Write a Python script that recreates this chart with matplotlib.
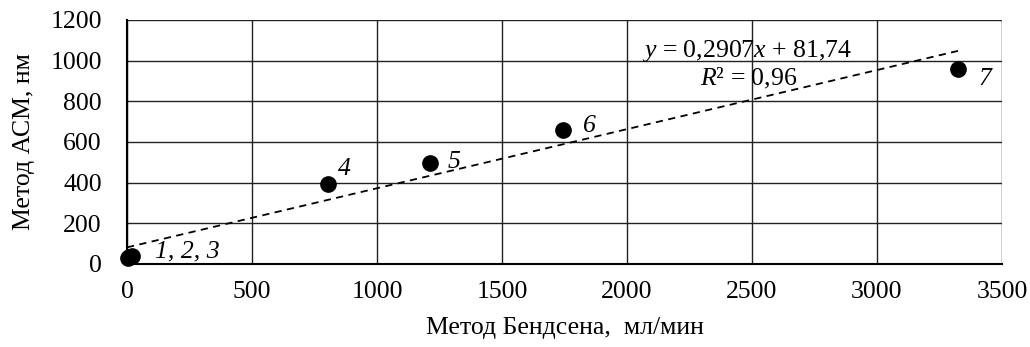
import matplotlib
matplotlib.use("Agg")
import matplotlib.pyplot as plt
import numpy as np

plt.rcParams['font.family'] = ['Liberation Serif', 'DejaVu Serif']
plt.rcParams['mathtext.fontset'] = 'custom'
plt.rcParams['mathtext.rm'] = 'Liberation Serif'
plt.rcParams['mathtext.it'] = 'Liberation Serif:italic'

# Data
x_vals = [3, 10, 20, 804, 1212, 1744, 3324]
y_vals = [30, 35, 38, 393, 497, 659, 959]
labels = ["1, 2, 3", "4", "5", "6", "7"]
label_x = [112, 844, 1284, 1824, 3404]
label_y = [30, 438, 472, 649, 880]
slope = 0.2907
intercept = 81.74
x_ticks = [0, 500, 1000, 1500, 2000, 2500, 3000, 3500]
y_ticks = [0, 200, 400, 600, 800, 1000, 1200]

FS = 18.5

fig = plt.figure(figsize=(10.3, 3.47), dpi=100)
ax = fig.add_axes([0.1233, 0.2392, 0.8495, 0.7032])

ax.set_xlim(0, 3500)
ax.set_ylim(0, 1200)
ax.set_xticks(x_ticks)
ax.set_yticks(y_ticks)
ax.grid(True, color='#222222', linewidth=1.0)
ax.set_axisbelow(True)
for s in ['top', 'right']:
    ax.spines[s].set_visible(False)
ax.spines['left'].set_linewidth(1.5)
ax.spines['bottom'].set_linewidth(1.5)
ax.tick_params(axis='y', length=0, labelsize=FS, pad=18)
ax.tick_params(axis='x', length=0, labelsize=FS, pad=12)

xs = np.array([0, x_vals[-1]])
ax.plot(xs, slope * xs + intercept, color='black', linestyle=(0, (4, 3)), linewidth=1.3, zorder=2)
ax.plot(x_vals, y_vals, 'o', color='black', markersize=11, zorder=3, clip_on=False)

for t, lx, ly in zip(labels, label_x, label_y):
    ax.text(lx, ly, t, fontsize=FS, style='italic', va='baseline', ha='left')

ax.text(2482, 1018, r"$y$ = 0,2907$x$ + 81,74", fontsize=FS, ha='center', va='baseline')
ax.text(2486, 880, r"$R$² = 0,96", fontsize=FS, ha='center', va='baseline')

ax.set_xlabel("Метод Бендсена,  мл/мин", fontsize=FS, labelpad=10)
ax.set_ylabel("Метод АСМ, нм", fontsize=FS, labelpad=11)

fig.savefig("out.png", dpi=100)
